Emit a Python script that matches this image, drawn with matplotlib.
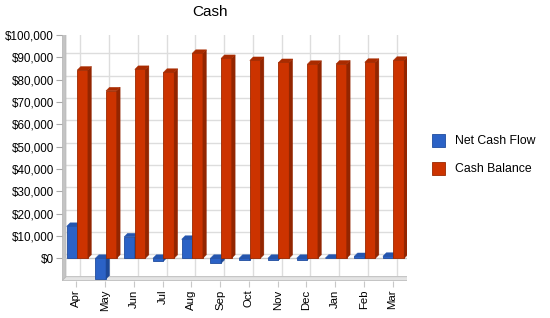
import matplotlib
matplotlib.use("Agg")
import matplotlib.pyplot as plt
import numpy as np
from matplotlib.patches import Polygon, Rectangle
from matplotlib.transforms import IdentityTransform

plt.rcParams['font.family'] = ['Liberation Sans', 'DejaVu Sans']

months = ["Apr", "May", "Jun", "Jul", "Aug", "Sep", "Oct", "Nov", "Dec", "Jan", "Feb", "Mar"]
net_cash_flow = [14300, -9300, 9600, -1300, 8500, -2300, -900, -900, -800, 100, 800, 900]
cash_balance = [84300, 75000, 84600, 83300, 91800, 89500, 88600, 87700, 86900, 87000, 87800, 88700]
series_names = ["Net Cash Flow", "Cash Balance"]
yticks = list(range(0, 100001, 10000))
ytick_labels = ["$0"] + ["${:,}".format(v) for v in yticks[1:]]

W, H = 550, 318
fig = plt.figure(figsize=(W / 100, H / 100), dpi=100)
fig.patch.set_facecolor("white")

# front plane
L, R, T, B = 62, 407, 35, 280.6
ax = fig.add_axes([L / W, 1 - B / H, (R - L) / W, (B - T) / H])
ax.set_xlim(-0.5, len(months) - 0.5)
ax.set_ylim(-10000, 100000)
ax.patch.set_alpha(0)
for s in ax.spines.values():
    s.set_visible(False)

D = 4  # 3D depth of plot box, px
bd = 3.5  # bar depth, px
ident = IdentityTransform()


def px(x, y):
    return ax.transData.transform((x, y))


x = np.arange(len(months))

# back plane gridlines
grid_c = "#DDDDDD"
for v in yticks:
    p0 = px(-0.5, v) + D
    p1 = px(len(months) - 0.5, v) + D
    ax.add_line(plt.Line2D([p0[0], p1[0]], [p0[1], p1[1]], transform=ident, color=grid_c, lw=1, zorder=0))
for xi in x:
    p0 = px(xi, -10000) + D
    p1 = px(xi, 100000) + D
    ax.add_line(plt.Line2D([p0[0], p1[0]], [p0[1], p1[1]], transform=ident, color=grid_c, lw=1, zorder=0))

# plot border top & right (back)
tl = px(-0.5, 100000) + D
tr = px(len(months) - 0.5, 100000) + D
br = px(len(months) - 0.5, -10000) + D
ax.add_line(plt.Line2D([tl[0], tr[0], br[0]], [tl[1], tr[1], br[1]], transform=ident, color="#C0C0C0", lw=1.2, zorder=1))

# floor
f0 = px(-0.5, -10000)
f1 = px(len(months) - 0.5, -10000)
floor = Polygon([f0, f1, f1 + D, f0 + D], closed=True, transform=ident,
                facecolor="#E4E4E4", edgecolor="#C4C4C4", lw=0.8, zorder=1)
ax.add_patch(floor)

# wall
w0 = px(-0.5, -10000)
w1 = px(-0.5, 100000)
wall = Polygon([w0, w1, w1 + D, w0 + D], closed=True, transform=ident,
               facecolor="#C4C4C4", edgecolor="#B8B8B8", lw=0.5, zorder=1)
ax.add_patch(wall)

# zero line
ax.axhline(0, color="#C8C8C8", lw=1, zorder=1.5)

colors = {
    "blue": ("#2B62C6", "#1D4896", "#2455AE", "#1F4C9E"),
    "red": ("#CC3300", "#932500", "#A92B00", "#9A2800"),
}


def bars3d(xs, vals, offset, width, cset, z):
    front, side, top, edge = cset
    rects = ax.bar(xs + offset, vals, width=width, align="edge", color=front,
                   edgecolor=edge, linewidth=0.6, zorder=z)
    for xi, v in zip(xs, vals):
        x0, x1 = xi + offset, xi + offset + width
        ytop = max(v, 0)
        ybot = min(v, 0)
        a = px(x1, ybot)
        b = px(x1, ytop)
        ax.add_patch(Polygon([a, b, b + bd, a + bd], closed=True, transform=ident,
                             facecolor=side, edgecolor=side, lw=0.3, zorder=z))
        c = px(x0, ytop)
        ax.add_patch(Polygon([c, b, b + bd, c + bd], closed=True, transform=ident,
                             facecolor=top, edgecolor=top, lw=0.3, zorder=z))
    return rects


blue_bars = bars3d(x, net_cash_flow, -0.34, 0.37, colors["blue"], 3)
red_bars = bars3d(x, cash_balance, 0.03, 0.37, colors["red"], 4)

ax.set_yticks(yticks)
ax.set_yticklabels(ytick_labels, fontsize=8.4)
ax.set_xticks(x)
ax.set_xticklabels(months, rotation=90, fontsize=8.2)
ax.tick_params(axis="y", length=4.3, width=0.8, color="#A8A8A8", pad=1.5)
ax.tick_params(axis="x", length=4.3, width=0.8, color="#C8C8C8", pad=2)

fig.text(210 / W, 1 - 12.5 / H, "Cash", ha="center", va="center", fontsize=11)

# legend
for i, (name, c) in enumerate(zip(series_names, [colors["blue"], colors["red"]])):
    yc = 140.5 + 28 * i
    fig.patches.append(Rectangle((432 / W, 1 - (yc + 6.5) / H), 13 / W, 13 / H,
                                 transform=fig.transFigure, facecolor=c[0], edgecolor=c[3], lw=0.6))
    fig.text(455 / W, 1 - yc / H, name, ha="left", va="center", fontsize=8.8)

fig.savefig("out.png", dpi=100, facecolor="white")
